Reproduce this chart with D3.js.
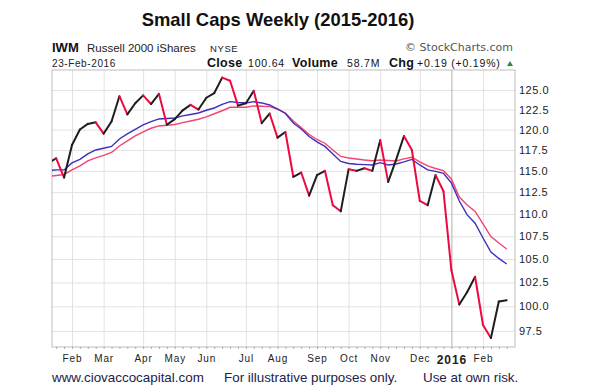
<!DOCTYPE html>
<html>
<head>
<meta charset="utf-8">
<script src="https://cdn.jsdelivr.net/npm/d3@7"></script>
<style>
  body { margin: 0; background: #fff; }
  svg { display: block; font-family: "Liberation Sans", Arial, sans-serif; }
</style>
</head>
<body>
<div id="chart"></div>
<script>
// weekly closes of IWM, Jan 12 2015 -> Feb 22 2016
var closes = [115.9, 116.5, 114.2, 118.1, 120.0, 120.7, 120.9, 119.5, 121.0, 124.2,
  121.9, 123.3, 124.3, 123.2, 124.5, 120.6, 121.3, 122.4, 123.1, 122.5,
  124.0, 124.6, 126.6, 126.2, 123.0, 123.3, 124.9, 120.8, 122.0, 119.0,
  119.7, 114.3, 114.8, 112.1, 114.5, 115.0, 111.0, 110.3, 115.2, 115.0,
  115.3, 115.0, 118.7, 113.7, 116.3, 119.2, 117.5, 111.5, 111.0, 114.5,
  112.6, 103.8, 100.2, 101.5, 103.1, 98.1, 96.8, 100.5, 100.64];

// the two moving averages (blue = faster, red = slower)
var maBlue = [115.05, 115.11, 115.11, 115.94, 116.36, 117.02, 117.50, 117.71, 117.93, 118.84,
  119.46, 120.01, 120.57, 120.98, 121.32, 121.38, 121.44, 121.70, 121.88, 122.07,
  122.41, 122.70, 123.15, 123.50, 123.40, 123.34, 123.50, 123.34, 123.08, 122.57,
  122.01, 120.82, 120.07, 119.15, 118.48, 117.93, 117.02, 116.12, 115.88, 115.78,
  115.74, 115.70, 115.97, 115.70, 115.82, 116.06, 116.36, 115.70, 115.11, 114.93,
  114.71, 113.57, 111.48, 109.89, 108.95, 107.31, 105.77, 105.07, 104.47];

var maRed = [114.33, 114.45, 114.57, 115.11, 115.58, 116.18, 116.54, 116.84, 117.20, 117.99,
  118.60, 119.21, 119.70, 120.16, 120.45, 120.54, 120.63, 120.86, 121.07, 121.28,
  121.59, 121.97, 122.35, 122.79, 122.79, 122.79, 122.96, 122.92, 122.87, 122.57,
  122.07, 121.07, 120.26, 119.39, 118.78, 118.32, 117.50, 116.72, 116.54, 116.42,
  116.30, 116.21, 116.30, 116.24, 116.18, 116.42, 116.62, 116.06, 115.58, 115.28,
  115.02, 114.04, 111.94, 111.03, 110.28, 108.87, 107.46, 106.76, 106.10];

var monthLabels = ["Feb", "Mar", "Apr", "May", "Jun", "Jul", "Aug", "Sep", "Oct", "Nov", "Dec", "2016", "Feb"];
var yTicks = [97.5, 100, 102.5, 105, 107.5, 110, 112.5, 115, 117.5, 120, 122.5, 125];

// one bar per week (Monday of each week)
var weekDates = d3.timeMonday.range(new Date(2015, 0, 12), new Date(2016, 1, 23));

// set the dimensions and margins of the graph
var margin = { top: 70, right: 87, bottom: 45, left: 52 },
    width = 602 - margin.left - margin.right,
    height = 392 - margin.top - margin.bottom;

var root = d3.select("#chart")
    .append("svg")
    .attr("width", 602)
    .attr("height", 392);

var svg = root.append("g")
    .attr("transform", "translate(" + margin.left + "," + margin.top + ")");

// scales
var x = d3.scaleTime()
    .domain([new Date(2015, 0, 15, 7), new Date(2016, 1, 29, 8)])
    .range([0, width]);

var y = d3.scaleLog()
    .domain([95.9, 127.6])
    .range([height, 0]);

// first week of every month gets a gridline + label
var monthDates = weekDates.filter(function (d, i) {
    return i > 0 && d.getMonth() !== weekDates[i - 1].getMonth();
});

// horizontal gridlines
svg.append("g")
    .attr("class", "ygrid")
    .call(d3.axisRight(y).tickValues(yTicks).tickSize(width).tickFormat(""))
    .call(function (g) { g.select(".domain").remove(); })
    .selectAll("line")
    .attr("stroke", "#e2e2e2");

// vertical gridlines
svg.append("g")
    .attr("class", "xgrid")
    .call(d3.axisTop(x).tickValues(monthDates).tickSize(-height).tickFormat(""))
    .call(function (g) { g.select(".domain").remove(); })
    .selectAll("line")
    .attr("stroke", function (d) { return d.getMonth() === 0 ? "#b0b0b0" : "#e2e2e2"; });

// frame
svg.append("rect")
    .attr("width", width)
    .attr("height", height)
    .attr("fill", "none")
    .attr("stroke", "#bdbdbd");

// weekly minor ticks under the frame
svg.append("g")
    .attr("transform", "translate(0," + height + ")")
    .call(d3.axisBottom(x)
        .tickValues(weekDates.filter(function (d) { return x(d) >= 0 && x(d) <= width; }))
        .tickSize(2).tickFormat(""))
    .call(function (g) { g.select(".domain").remove(); })
    .selectAll("line")
    .attr("stroke", "#aaa");

// month labels
var xAxis = svg.append("g")
    .attr("transform", "translate(0," + height + ")")
    .call(d3.axisBottom(x).tickValues(monthDates).tickSize(0).tickPadding(8)
        .tickFormat(function (d, i) { return monthLabels[i]; }));
xAxis.select(".domain").remove();
xAxis.selectAll("text")
    .style("font-family", "'Liberation Sans', Arial, sans-serif")
    .style("letter-spacing", "0.9px")
    .style("font-weight", function (d) { return d.getMonth() === 0 ? "bold" : "normal"; })
    .style("font-size", function (d) { return d.getMonth() === 0 ? "12px" : "10px"; })
    .attr("fill", "#222");

// price labels on the right
var yAxis = svg.append("g")
    .attr("transform", "translate(" + width + ",0)")
    .call(d3.axisRight(y).tickValues(yTicks).tickSize(0).tickPadding(4)
        .tickFormat(d3.format(".1f")));
yAxis.select(".domain").remove();
yAxis.selectAll("text")
    .style("font-family", "'Liberation Sans', Arial, sans-serif")
    .style("font-size", "11px")
    .style("letter-spacing", "0.5px")
    .attr("fill", "#222");

// clip the lines to the frame
svg.append("clipPath").attr("id", "plotclip")
    .append("rect").attr("width", width).attr("height", height);

var plot = svg.append("g").attr("clip-path", "url(#plotclip)");

var line = d3.line()
    .x(function (d) { return x(d.date); })
    .y(function (d) { return y(d.value); });

function series(vals) {
    return vals.map(function (v, i) { return { date: weekDates[i], value: v }; });
}

plot.append("path")
    .datum(series(maRed))
    .attr("d", line)
    .attr("fill", "none")
    .attr("stroke", "#f2446e")
    .attr("stroke-width", 1.4);

plot.append("path")
    .datum(series(maBlue))
    .attr("d", line)
    .attr("fill", "none")
    .attr("stroke", "#3d2fb8")
    .attr("stroke-width", 1.4);

// price line: black on up weeks, red on down weeks
var pts = series(closes);
var segs = d3.pairs(pts);
plot.selectAll("path.seg")
    .data(segs)
    .enter()
    .append("path")
    .attr("class", "seg")
    .attr("d", function (p) { return line(p); })
    .attr("fill", "none")
    .attr("stroke-width", 2)
    .attr("stroke-linecap", "round")
    .attr("stroke", function (p) { return p[1].value >= p[0].value ? "#1e1e1e" : "#ec0a40"; });

// title
root.append("text")
    .attr("x", 278)
    .attr("y", 26)
    .attr("text-anchor", "middle")
    .style("font-size", "18.4px")
    .style("font-weight", "bold")
    .attr("fill", "#111")
    .text("Small Caps Weekly (2015-2016)");

// header line 1
root.append("text").attr("x", 52).attr("y", 52)
    .style("font-size", "13px").style("font-weight", "bold").attr("fill", "#111").text("IWM");
root.append("text").attr("x", 87).attr("y", 52)
    .style("font-size", "11.5px").attr("fill", "#222").text("Russell 2000 iShares");
root.append("text").attr("x", 210).attr("y", 52)
    .style("font-size", "9.5px").style("letter-spacing", "0.6px").attr("fill", "#222").text("NYSE");
root.append("text").attr("x", 513).attr("y", 51)
    .attr("text-anchor", "end")
    .style("font-family", "'DejaVu Sans', sans-serif")
    .style("font-size", "11px").attr("fill", "#555").text("© StockCharts.com");

// header line 2
root.append("text").attr("x", 52).attr("y", 67)
    .style("font-size", "10px").style("letter-spacing", "0.6px").attr("fill", "#222").text("23-Feb-2016");

var hdr = [
    { t: "Close", x: 207, b: true },
    { t: "100.64", x: 248, b: false },
    { t: "Volume", x: 292, b: true },
    { t: "58.7M", x: 347, b: false },
    { t: "Chg", x: 389, b: true },
    { t: "+0.19 (+0.19%)", x: 417, b: false }
];
root.selectAll("text.hdr")
    .data(hdr)
    .enter()
    .append("text")
    .attr("class", "hdr")
    .attr("x", function (d) { return d.x; })
    .attr("y", 67)
    .style("font-size", function (d) { return d.b ? "12.5px" : "10.5px"; })
    .style("font-weight", function (d) { return d.b ? "bold" : "normal"; })
    .style("letter-spacing", function (d) { return d.b ? "0.3px" : "0.8px"; })
    .attr("fill", "#111")
    .text(function (d) { return d.t; });

root.append("path")
    .attr("d", "M507,66 L513,66 L510,61 Z")
    .attr("fill", "#2e8b3a");

// footer
var foot = [
    { t: "www.ciovaccocapital.com", x: 52 },
    { t: "For illustrative purposes only.", x: 224 },
    { t: "Use at own risk.", x: 423 }
];
root.selectAll("text.foot")
    .data(foot)
    .enter()
    .append("text")
    .attr("class", "foot")
    .attr("x", function (d) { return d.x; })
    .attr("y", 382)
    .style("font-size", "13.4px")
    .attr("fill", "#22224a")
    .text(function (d) { return d.t; });
</script>
</body>
</html>
